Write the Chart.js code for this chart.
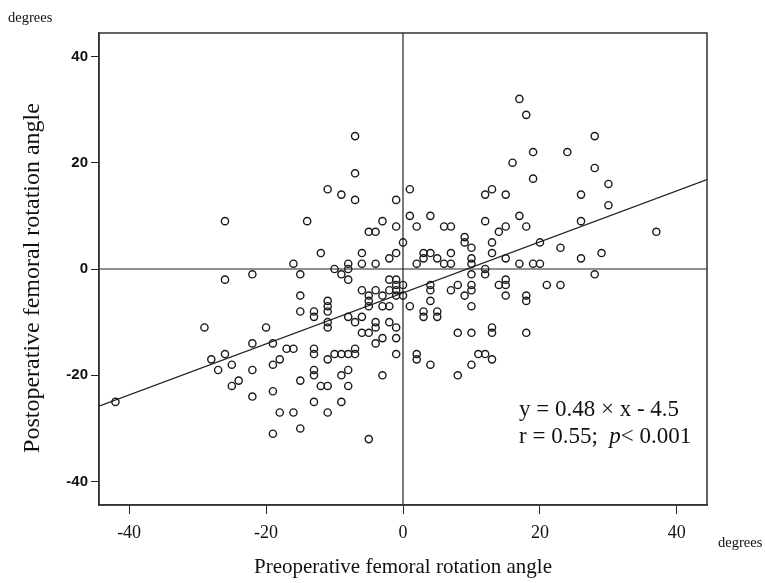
<!DOCTYPE html>
<html>
<head>
<meta charset="utf-8">
<script src="https://cdn.jsdelivr.net/npm/chart.js@4.4.0/dist/chart.umd.min.js"></script>
<style>
    html, body { margin: 0; padding: 0; background: #fff; }
</style>
</head>
<body>
<canvas id="rotationChart" width="765" height="583"></canvas>
<script>
// Preoperative (x) vs postoperative (y) femoral rotation angle, degrees
const preopAngle = [
    -26, -14, -16, -7, -7, -11, -9, -7, -1, 1, -3, -5, -4, -1, 1, 2, 4, 6, 7,
    12, 13, 15, 12, 9, 9, 10, 14, 13, 13, 0, -12, -6, -1, -2, -8, -6, -4,
    3, 4, 3, 5, 7, 2, 6, 7, 10, 10, 15,
    17, 18, 28, 19, 24, 16, 28, 19, 30, 26, 30, 17, 15, 18, 26, 37, 20, 23, 29, 26, 17, 19, 20,
    -10, -8, 12, -22, -15, -9, 10, 12, 28,
    -26, -15, -15, -29, -20, -22, -19, -17, -16, -28, -26, -25, -27, -22, -19, -18, -15,
    -25, -24, -22, -19, -18, -16, -15, -19, -42,
    -8, -2, -1, -1, 0, -6, -4, -2, -1, -5, -5, -5, -3, -1, 0, -3, -2,
    -11, -11, -11, -13, -13, -8, -7, -6, -11, -11, -4, -4, -2, -1, -6, -5, -3, -4, -1,
    -13, -13, -11, -10, -9, -8, -7, -7, -1, -13, -13, -8, -9, -3, -12, -11, -8, -13, -9, -11, -5,
    1, 4, 4, 4, 7, 8, 9, 10, 10, 10, 14, 15, 15, 15, 3, 3, 5, 5,
    8, 10, 13, 13, 2, 2, 4, 11, 12, 13, 10, 8, 18, 18, 21, 23, 18
];
const postopAngle = [
    9, 9, 1, 25, 18, 15, 14, 13, 13, 15, 9, 7, 7, 8, 10, 8, 10, 8, 8,
    14, 15, 14, 9, 6, 5, 4, 7, 5, 3, 5, 3, 3, 3, 2, 1, 1, 1,
    3, 3, 2, 2, 3, 1, 1, 1, 2, 1, 2,
    32, 29, 25, 22, 22, 20, 19, 17, 16, 14, 12, 10, 8, 8, 9, 7, 5, 4, 3, 2, 1, 1, 1,
    0, 0, 0, -1, -1, -1, -1, -1, -1,
    -2, -5, -8, -11, -11, -14, -14, -15, -15, -17, -16, -18, -19, -19, -18, -17, -21,
    -22, -21, -24, -23, -27, -27, -30, -31, -25,
    -2, -2, -2, -3, -3, -4, -4, -4, -4, -5, -6, -7, -5, -5, -5, -7, -7,
    -6, -7, -8, -8, -9, -9, -10, -9, -10, -11, -10, -11, -10, -11, -12, -12, -13, -14, -13,
    -15, -16, -17, -16, -16, -16, -16, -15, -16, -19, -20, -19, -20, -20, -22, -22, -22, -25, -25, -27, -32,
    -7, -3, -4, -6, -4, -3, -5, -3, -4, -7, -3, -2, -3, -5, -8, -9, -8, -9,
    -12, -12, -11, -12, -16, -17, -18, -16, -16, -17, -18, -20, -5, -6, -3, -3, -12
];
const tickValues = [-40, -20, 0, 20, 40];
const axisMin = -44.4;
const axisMax = 44.4;
const slope = 0.48;
const intercept = -4.5;
const xTitle = 'Preoperative femoral rotation angle';
const yTitle = 'Postoperative femoral rotation angle';
const unitLabel = 'degrees';

const serif = '"Liberation Serif", "Times New Roman", serif';

const points = preopAngle.map(function(x, i) {
    return { x: x, y: postopAngle[i] };
});

// frame, titles and the regression text
const annotations = {
    id: 'annotations',
    afterDraw: function(chart) {
        const c = chart.ctx;
        const area = chart.chartArea;
        c.save();
        c.strokeStyle = '#333';
        c.lineWidth = 1.5;
        c.strokeRect(area.left, area.top, area.right - area.left, area.bottom - area.top);

        c.fillStyle = '#111';
        c.font = '21px ' + serif;
        c.textAlign = 'center';
        c.textBaseline = 'middle';
        c.fillText(xTitle, 403, 567);

        c.save();
        c.translate(33, 278);
        c.rotate(-Math.PI / 2);
        c.font = '24px ' + serif;
        c.fillText(yTitle, 0, 0);
        c.restore();

        c.font = '14.5px ' + serif;
        c.textAlign = 'left';
        c.fillText(unitLabel, 8, 18);
        c.fillText(unitLabel, 718, 543);

        c.font = '23px ' + serif;
        c.fillText('y = ' + slope.toFixed(2) + ' \u00d7 x - ' + Math.abs(intercept).toFixed(1), 519, 410);
        let x = 519;
        const part1 = 'r = 0.55;  ';
        c.fillText(part1, x, 437);
        x += c.measureText(part1).width;
        c.font = 'italic 23px ' + serif;
        c.fillText('p', x, 437);
        x += c.measureText('p').width;
        c.font = '23px ' + serif;
        c.fillText('< 0.001', x, 437);
        c.restore();
    }
};

const ctx = document.getElementById('rotationChart').getContext('2d');
const rotationChart = new Chart(ctx, {
    type: 'scatter',
    data: {
        datasets: [
            {
                label: 'Patients',
                data: points,
                pointRadius: 3.6,
                pointBorderWidth: 1.4,
                pointBorderColor: '#1a1a1a',
                pointBackgroundColor: 'rgba(255,255,255,0)'
            },
            {
                label: 'Fit',
                data: [
                    { x: axisMin, y: slope * axisMin + intercept },
                    { x: axisMax, y: slope * axisMax + intercept }
                ],
                showLine: true,
                borderColor: '#222',
                borderWidth: 1.3,
                pointRadius: 0
            },
            {
                label: 'x = 0',
                data: [{ x: 0, y: axisMin }, { x: 0, y: axisMax }],
                showLine: true,
                borderColor: '#222',
                borderWidth: 1.2,
                pointRadius: 0
            },
            {
                label: 'y = 0',
                data: [{ x: axisMin, y: 0 }, { x: axisMax, y: 0 }],
                showLine: true,
                borderColor: '#222',
                borderWidth: 1.2,
                pointRadius: 0
            }
        ]
    },
    options: {
        responsive: false,
        animation: false,
        layout: {
            padding: { top: 33, right: 58, bottom: 0, left: 0 }
        },
        plugins: {
            legend: { display: false },
            tooltip: { enabled: false }
        },
        scales: {
            x: {
                type: 'linear',
                min: axisMin,
                max: axisMax,
                afterBuildTicks: function(scale) {
                    scale.ticks = tickValues.map(function(v) { return { value: v }; });
                },
                afterFit: function(scale) {
                    scale.height = 78;
                },
                grid: { drawOnChartArea: false, drawTicks: true, tickLength: 9, color: '#222' },
                border: { display: true, color: '#333', width: 1.5 },
                ticks: { padding: 8, color: '#111', font: { family: serif, size: 18 }, maxRotation: 0 }
            },
            y: {
                type: 'linear',
                min: axisMin,
                max: axisMax,
                afterBuildTicks: function(scale) {
                    scale.ticks = tickValues.map(function(v) { return { value: v }; });
                },
                afterFit: function(scale) {
                    scale.width = 99;
                },
                grid: { drawOnChartArea: false, drawTicks: true, tickLength: 8, color: '#222' },
                border: { display: true, color: '#333', width: 1.5 },
                ticks: { padding: 3, color: '#111', font: { family: '"Liberation Sans", Arial, sans-serif', size: 15, weight: 'bold' } }
            }
        }
    },
    plugins: [annotations]
});
</script>
</body>
</html>
